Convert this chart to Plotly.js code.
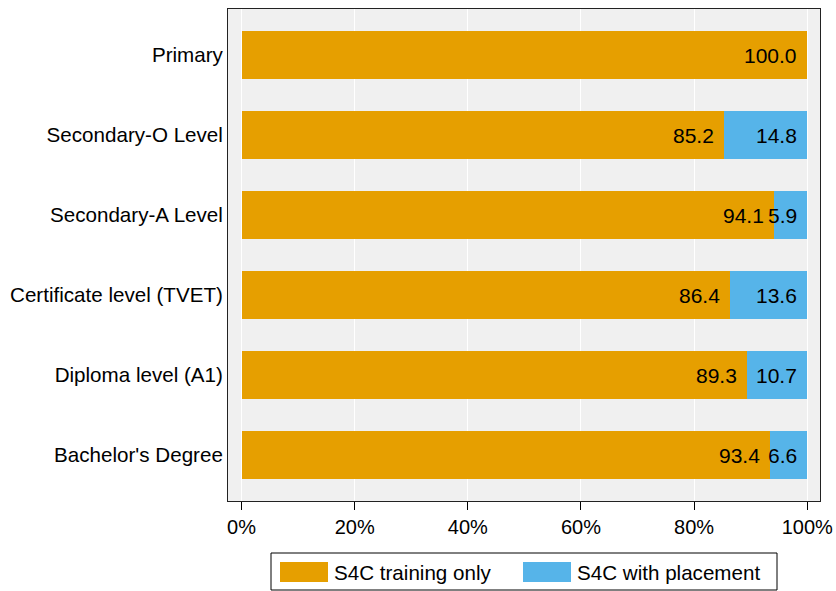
<!DOCTYPE html>
<html>
<head>
<meta charset="utf-8">
<script src="https://cdn.plot.ly/plotly-3.0.1.min.js"></script>
<style>html,body{margin:0;padding:0;background:#fff;}#chart{width:836px;height:591px;}</style>
</head>
<body>
<div id="chart"></div>
<script>
const categories = ["Primary", "Secondary-O Level", "Secondary-A Level", "Certificate level (TVET)", "Diploma level (A1)", "Bachelor's Degree"];
const trainingOnly = [100.0, 85.2, 94.1, 86.4, 89.3, 93.4];
const withPlacement = [0, 14.8, 5.9, 13.6, 10.7, 6.6];
const seriesNames = ["S4C training only", "S4C with placement"];
const seriesColors = ["#E69F00", "#56B4E9"];
const xTickVals = [0, 20, 40, 60, 80, 100];
const xTickText = ["0%", "20%", "40%", "60%", "80%", "100%"];

const W = 836, H = 591;
const M = {l: 228, r: 16, t: 9, b: 90};
const pw = W - M.l - M.r, ph = H - M.t - M.b;
const px2paperX = p => (p - M.l) / pw;
const px2paperY = p => (H - M.b - p) / ph;

const yIdx = categories.map((c, i) => i);
const FONT = "Liberation Sans, Arial, sans-serif";

const traces = [
  {type: "bar", orientation: "h", name: seriesNames[0], y: yIdx, x: trainingOnly,
   marker: {color: seriesColors[0], line: {width: 0}}, width: 0.6, hoverinfo: "none"},
  {type: "bar", orientation: "h", name: seriesNames[1], y: yIdx, x: withPlacement,
   marker: {color: seriesColors[1], line: {width: 0}}, width: 0.6, hoverinfo: "none"}
];

const annotations = [];
yIdx.forEach(i => {
  annotations.push({x: trainingOnly[i], y: i, xref: "x", yref: "y", text: trainingOnly[i].toFixed(1),
    showarrow: false, xanchor: "right", yanchor: "middle", xshift: -8,
    font: {family: FONT, size: 21, color: "#000"}});
  if (withPlacement[i] > 0) {
    annotations.push({x: trainingOnly[i] + withPlacement[i], y: i, xref: "x", yref: "y", text: withPlacement[i].toFixed(1),
      showarrow: false, xanchor: "right", yanchor: "middle", xshift: -8,
      font: {family: FONT, size: 21, color: "#000"}});
  }
});

// custom legend
const shapes = [
  {type: "rect", xref: "paper", yref: "paper", x0: px2paperX(271), x1: px2paperX(777), y0: px2paperY(553), y1: px2paperY(590),
   line: {color: "#000", width: 1}, fillcolor: "rgba(0,0,0,0)", layer: "above"}
];
const swatchX = [280, 523];
seriesNames.forEach((n, k) => {
  shapes.push({type: "rect", xref: "paper", yref: "paper",
    x0: px2paperX(swatchX[k]), x1: px2paperX(swatchX[k] + 48), y0: px2paperY(562), y1: px2paperY(582),
    line: {width: 0}, fillcolor: seriesColors[k]});
  annotations.push({xref: "paper", yref: "paper", x: px2paperX(swatchX[k] + 52), y: px2paperY(572),
    text: n, showarrow: false, xanchor: "left", yanchor: "middle",
    font: {family: FONT, size: 20.6, color: "#000"}});
});

const layout = {
  width: W, height: H,
  margin: M,
  paper_bgcolor: "#ffffff",
  plot_bgcolor: "#f0f0f0",
  barmode: "stack",
  showlegend: false,
  font: {family: FONT, size: 20, color: "#000"},
  xaxis: {
    range: [-2.39, 102.25], tickvals: xTickVals, ticktext: xTickText,
    showgrid: true, gridcolor: "#ffffff", gridwidth: 1, zeroline: false,
    ticks: "outside", ticklen: 8, tickcolor: "#000", tickwidth: 1,
    showline: true, linecolor: "#222", linewidth: 1, mirror: true,
    tickfont: {family: FONT, size: 20, color: "#000"}, fixedrange: true
  },
  yaxis: {
    range: [5.575, -0.575], tickvals: yIdx, ticktext: categories,
    showgrid: false, zeroline: false, ticks: "", ticklabelstandoff: 0,
    showline: true, linecolor: "#222", linewidth: 1, mirror: true,
    tickfont: {family: FONT, size: 20.6, color: "#000"}, fixedrange: true
  },
  annotations: annotations,
  shapes: shapes
};

Plotly.newPlot("chart", traces, layout, {displayModeBar: false, staticPlot: true});
</script>
</body>
</html>
